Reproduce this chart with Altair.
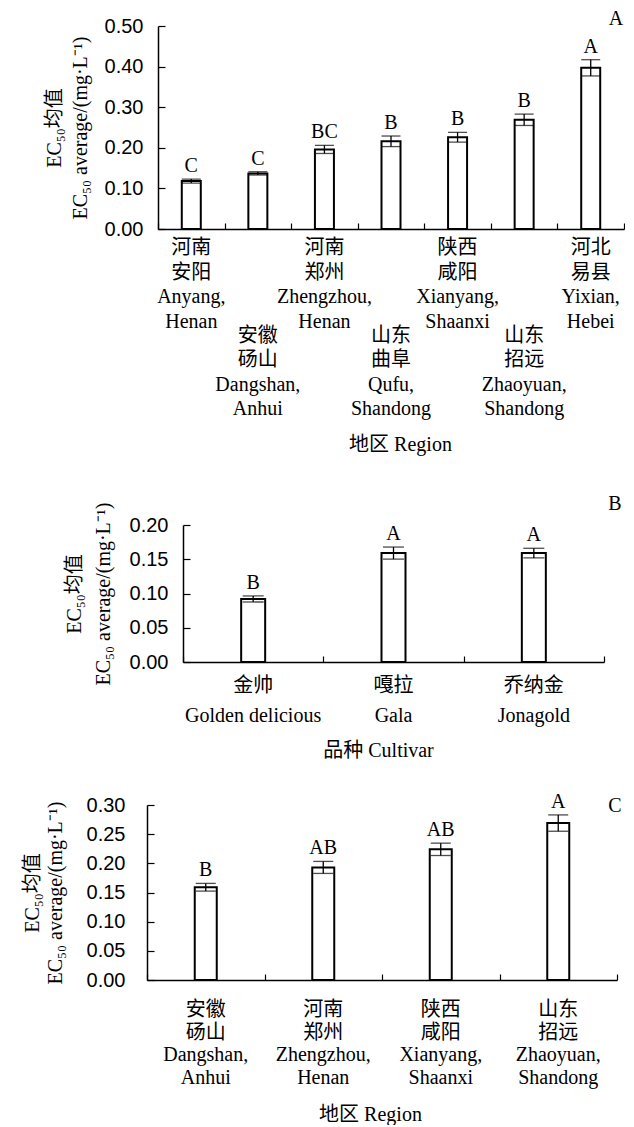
import altair as alt
import pandas as pd

SERIF = "Liberation Serif, Noto Sans CJK SC, serif"
SANS = "Liberation Sans, Arial, sans-serif"
YTITLE = ["EC₅₀均值", "EC₅₀ average/(mg·L⁻¹)"]

# ---------------- Panel A : region ----------------
a_labels = ["河南\n安阳\nAnyang,\nHenan", "安徽\n砀山\nDangshan,\nAnhui",
            "河南\n郑州\nZhengzhou,\nHenan", "山东\n曲阜\nQufu,\nShandong",
            "陕西\n咸阳\nXianyang,\nShaanxi", "山东\n招远\nZhaoyuan,\nShandong",
            "河北\n易县\nYixian,\nHebei"]
a_means = [0.118, 0.137, 0.196, 0.216, 0.226, 0.269, 0.397]
a_errs = [0.005, 0.004, 0.010, 0.013, 0.012, 0.014, 0.020]
a_letters = ["C", "C", "BC", "B", "B", "B", "A"]
a_ticks = [0.0, 0.1, 0.2, 0.3, 0.4, 0.5]

# ---------------- Panel B : cultivar ----------------
b_labels = ["金帅\nGolden delicious", "嘎拉\nGala", "乔纳金\nJonagold"]
b_means = [0.092, 0.159, 0.159]
b_errs = [0.0044, 0.0088, 0.007]
b_letters = ["B", "A", "A"]
b_ticks = [0.0, 0.05, 0.10, 0.15, 0.20]

# ---------------- Panel C : region ----------------
c_labels = ["安徽\n砀山\nDangshan,\nAnhui", "河南\n郑州\nZhengzhou,\nHenan",
            "陕西\n咸阳\nXianyang,\nShaanxi", "山东\n招远\nZhaoyuan,\nShandong"]
c_means = [0.159, 0.193, 0.224, 0.269]
c_errs = [0.0066, 0.0103, 0.0106, 0.014]
c_letters = ["B", "AB", "AB", "A"]
c_ticks = [0.0, 0.05, 0.10, 0.15, 0.20, 0.25, 0.30]

LEFT = 135  # common left extent reserved for y labels / title


def panel(labels, means, errs, letters, ticks, *, tag, width, height, bar_w, cap_w,
          label_y, label_lh, stagger, xtitle, xtitle_pad, xtitle_x, ytitle_pad,
          ytitle_lh, ylabel_pad, top, bottom, tag_x, tag_y):
    n = len(labels)
    df = pd.DataFrame({
        "cat": labels,
        "mean": means,
        "err": errs,
        "letter": letters,
        "row": [(i % 2) if stagger else 0 for i in range(n)],
    })
    df["lo"] = df["mean"] - df["err"]
    df["hi"] = df["mean"] + df["err"]

    xscale = alt.Scale(domain=labels, paddingInner=0, paddingOuter=0)
    x = alt.X("cat:N", scale=xscale, axis=alt.Axis(
        tickBand="extent", labels=False, title=xtitle, titleFont=SERIF,
        titleFontSize=20, titleFontWeight="normal", titlePadding=xtitle_pad,
        titleX=xtitle_x, tickSize={"expr": "-6"}))
    yscale = alt.Scale(domain=[ticks[0], ticks[-1]], nice=False)
    yaxis = alt.Axis(
        values=ticks, format=".2f", labelFont=SANS, labelFontSize=20,
        labelPadding=ylabel_pad, labelOverlap=False, labelSeparation=0, labelBound=False,
        labelFlush=False, tickSize={"expr": "-7"}, grid=False,
        titleFont=SERIF, titleFontSize=20, titleFontWeight="normal",
        titleLineHeight=ytitle_lh, titlePadding=ytitle_pad)
    y = alt.Y("mean:Q", scale=yscale, title=YTITLE, axis=yaxis)

    base = alt.Chart(df)
    bars = base.mark_bar(size=bar_w, fill="white", stroke="black", strokeWidth=2).encode(x=x, y=y)
    rule = base.mark_rule(color="black", strokeWidth=1.3).encode(
        x=x, y=alt.Y("lo:Q", scale=yscale, axis=yaxis, title=YTITLE), y2="hi:Q")
    cap_lo = base.mark_tick(orient="horizontal", size=cap_w, thickness=1.3, color="black").encode(
        x=x, y=alt.Y("lo:Q", scale=yscale, axis=yaxis, title=YTITLE))
    cap_hi = base.mark_tick(orient="horizontal", size=cap_w, thickness=1.3, color="black").encode(
        x=x, y=alt.Y("hi:Q", scale=yscale, axis=yaxis, title=YTITLE))
    sig = base.mark_text(font=SERIF, fontSize=20, baseline="alphabetic", dy=-7, color="black").encode(
        x=x, y=alt.Y("hi:Q", scale=yscale, axis=yaxis, title=YTITLE), text="letter:N")

    layers = [bars, rule, cap_lo, cap_hi, sig]
    rows = [0, 1] if stagger else [0]
    for r in rows:
        layers.append(
            base.transform_filter(f"datum.row == {r}").mark_text(
                lineBreak="\n", baseline="top", font=SERIF, fontSize=20,
                lineHeight=label_lh, color="black").encode(
                x=x, y=alt.value(height + label_y[r]), text="cat:N"))

    tag_df = pd.DataFrame({"t": [tag]})
    layers.append(alt.Chart(tag_df).mark_text(
        font=SERIF, fontSize=20, baseline="alphabetic", color="black").encode(
        x=alt.value(tag_x), y=alt.value(tag_y), text="t:N"))

    # invisible layout spacers (fix the panel's left / top / bottom extents)
    sp = pd.DataFrame({"t": ["."]})
    layers.append(alt.Chart(sp).mark_text(
        opacity=0, align="left", baseline="top", fontSize=8).encode(
        x=alt.value(-LEFT), y=alt.value(-top), text="t:N"))
    if bottom is not None:
        layers.append(alt.Chart(sp).mark_text(
            opacity=0, align="left", baseline="bottom", fontSize=8).encode(
            x=alt.value(0), y=alt.value(bottom), text="t:N"))

    return alt.layer(*layers).properties(width=width, height=height)


def gap(w):
    # empty spacer view whose bounds end exactly at x = w
    return alt.Chart(pd.DataFrame({"t": ["."]})).mark_text(
        opacity=0, align="right", baseline="top", fontSize=8).encode(
        x=alt.value(w), y=alt.value(0), text="t:N").properties(width=w, height=1)


pa = panel(a_labels, a_means, a_errs, a_letters, a_ticks, tag="A",
           width=466, height=203, bar_w=19, cap_w=19,
           label_y=[9, 96.5], label_lh=24.5, stagger=True,
           xtitle="地区 Region", xtitle_pad=205, xtitle_x=242,
           ytitle_pad=14, ytitle_lh=26, ylabel_pad=22,
           top=17.5, bottom=455, tag_x=458, tag_y=-1.5)

pb = panel(b_labels, b_means, b_errs, b_letters, b_ticks, tag="B",
           width=421, height=137, bar_w=24, cap_w=21,
           label_y=[13.5], label_lh=30, stagger=False,
           xtitle="品种 Cultivar", xtitle_pad=78, xtitle_x=195,
           ytitle_pad=16, ytitle_lh=28.5, ylabel_pad=22,
           top=43.3, bottom=261.7, tag_x=432, tag_y=-15)

pc = panel(c_labels, c_means, c_errs, c_letters, c_ticks, tag="C",
           width=470, height=175, bar_w=22, cap_w=20,
           label_y=[20.3], label_lh=22.5, stagger=False,
           xtitle="地区 Region", xtitle_pad=124, xtitle_x=223,
           ytitle_pad=21, ytitle_lh=23, ylabel_pad=29,
           top=17.7, bottom=None, tag_x=468, tag_y=7.3)

row_a = alt.hconcat(gap(158 - 8 - LEFT), pa, spacing=0)
row_b = alt.hconcat(gap(183 - 8 - LEFT), pb, spacing=0)
row_c = alt.hconcat(gap(147 - 8 - LEFT), pc, spacing=0)

chart = alt.vconcat(row_a, row_b, row_c, spacing=0).properties(
    padding=0
).configure_view(strokeWidth=0).configure_axis(
    domainColor="black", domainWidth=1.5, tickColor="black", tickWidth=1.2,
    labelColor="black", titleColor="black", labelOverlap=False
)

chart.save("out.html", embed_options={"renderer": "svg", "actions": False})
